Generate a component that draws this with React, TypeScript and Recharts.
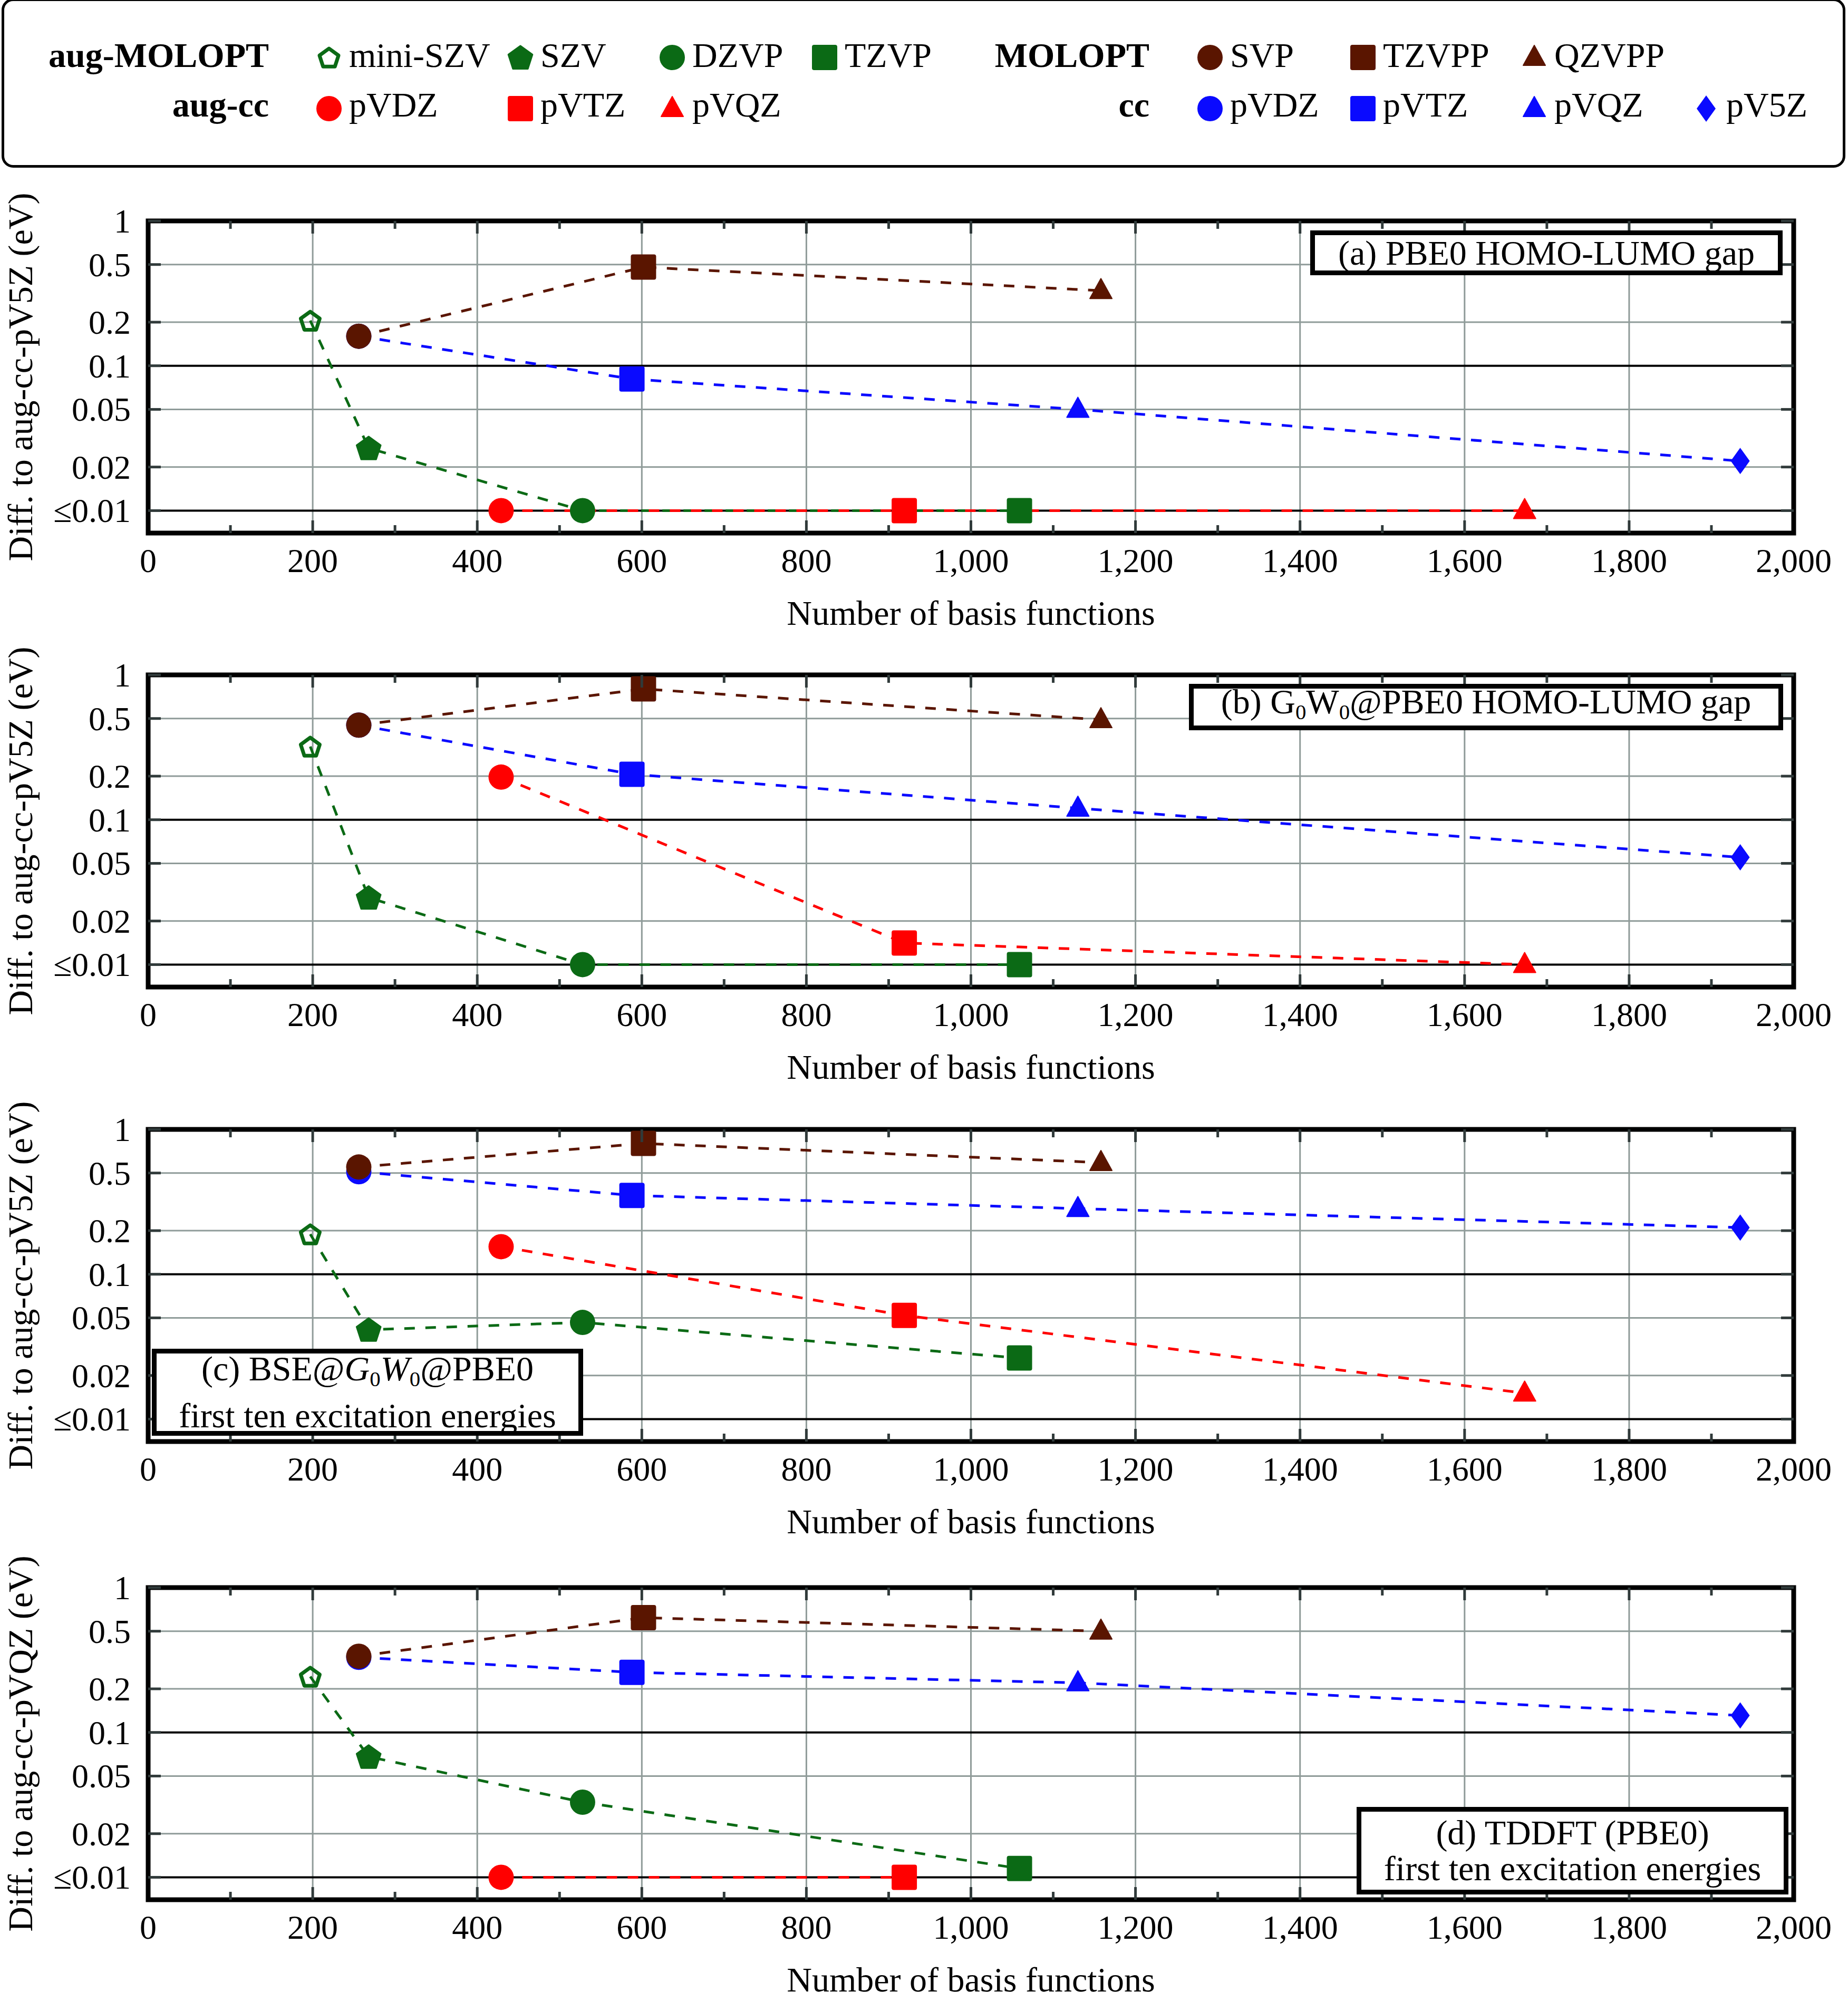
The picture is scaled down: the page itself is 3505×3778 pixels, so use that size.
import { ScatterChart, Scatter, XAxis, YAxis, ReferenceLine, ReferenceArea } from "recharts";

const FONT = "'Liberation Serif', 'Times New Roman', Times, serif";

const GREEN = "#0b6a15";
const BROWN = "#5a1500";
const RED = "#ff0000";
const BLUE = "#0a0aff";
const GRID = "#8f9b99";
const TICK = "#303a3a";

// basis-set names per family
const augMoloptNames = ["mini-SZV", "SZV", "DZVP", "TZVP"];
const moloptNames = ["SVP", "TZVPP", "QZVPP"];
const augCcNames = ["pVDZ", "pVTZ", "pVQZ"];
const ccNames = ["pVDZ", "pVTZ", "pVQZ", "pV5Z"];

// number of basis functions
const augMoloptBasis = [197, 268, 528, 1059];
const moloptBasis = [256, 602, 1158];
const augCcBasis = [429, 919, 1673];
const ccBasis = [256, 588, 1130, 1935];

// deviations in eV (0.01 is the "<=0.01" floor)
const pbe0GapAugMolopt = [0.205, 0.027, 0.01, 0.01];
const pbe0GapMolopt = [0.16, 0.48, 0.33];
const pbe0GapAugCc = [0.01, 0.01, 0.01];
const pbe0GapCc = [0.16, 0.081, 0.05, 0.022];

const gwGapAugMolopt = [0.32, 0.029, 0.01, 0.01];
const gwGapMolopt = [0.45, 0.8, 0.49];
const gwGapAugCc = [0.197, 0.0141, 0.01];
const gwGapCc = [0.45, 0.206, 0.12, 0.055];

const bseAugMolopt = [0.189, 0.0414, 0.0465, 0.0264];
const bseMolopt = [0.55, 0.8, 0.59];
const bseAugCc = [0.155, 0.052, 0.0151];
const bseCc = [0.51, 0.35, 0.284, 0.21];

const tddftAugMolopt = [0.243, 0.068, 0.033, 0.0115];
const tddftMolopt = [0.336, 0.62, 0.5];
const tddftAugCc = [0.01, 0.01, null];
const tddftCc = [0.33, 0.26, 0.22, 0.131];

const xTicks = [0, 100, 200, 300, 400, 500, 600, 700, 800, 900, 1000, 1100, 1200, 1300, 1400, 1500, 1600, 1700, 1800, 1900, 2000];
const xGrid = [200, 400, 600, 800, 1000, 1200, 1400, 1600, 1800];
const yTicks = [0.01, 0.02, 0.05, 0.1, 0.2, 0.5, 1];
const yGridGray = [0.02, 0.05, 0.2, 0.5];
const yGridBlack = [0.01, 0.1];

const markerKind: Record<string, string> = {
  "mini-SZV": "pentagonOpen",
  SZV: "pentagon",
  DZVP: "circle",
  TZVP: "square",
  SVP: "circle",
  TZVPP: "square",
  QZVPP: "triangle",
  pVDZ: "circle",
  pVTZ: "square",
  pVQZ: "triangle",
  pV5Z: "diamond",
};

// layout
const W = 3505;
const MT = 100;
const PLOT_LEFT = 281;
const PLOT_RIGHT = 3402;
const PLOT_H = 592;
const PLOT_BOTTOM = MT + PLOT_H;
const X_AXIS_H = 200;
const CHART_H = MT + PLOT_H + X_AXIS_H;

function pentagon(cx: number, cy: number, r: number) {
  const pts = [];
  for (let k = 0; k < 5; k++) {
    const a = ((-90 + 72 * k) * Math.PI) / 180;
    pts.push(`${cx + r * Math.cos(a)},${cy + r * Math.sin(a) + 2}`);
  }
  return pts.join(" ");
}

function Marker({ kind, cx, cy, color }: { kind: string; cx: number; cy: number; color: string }) {
  switch (kind) {
    case "circle":
      return <circle cx={cx} cy={cy} r={24} fill={color} />;
    case "square":
      return <rect x={cx - 24} y={cy - 24} width={48} height={48} rx={4} fill={color} />;
    case "triangle":
      return (
        <polygon
          points={`${cx},${cy - 23} ${cx + 21},${cy + 15} ${cx - 21},${cy + 15}`}
          fill={color}
          stroke={color}
          strokeWidth={2}
          strokeLinejoin="round"
        />
      );
    case "diamond":
      return <polygon points={`${cx},${cy - 25} ${cx + 18},${cy} ${cx},${cy + 25} ${cx - 18},${cy}`} fill={color} />;
    case "pentagon":
      return <polygon points={pentagon(cx, cy, 24)} fill={color} stroke={color} strokeWidth={3} strokeLinejoin="round" />;
    default:
      return <polygon points={pentagon(cx, cy, 19)} fill="none" stroke={color} strokeWidth={7} strokeLinejoin="round" />;
  }
}

type Family = { names: string[]; basis: number[]; color: string };
const augMolopt: Family = { names: augMoloptNames, basis: augMoloptBasis, color: GREEN };
const molopt: Family = { names: moloptNames, basis: moloptBasis, color: BROWN };
const augCc: Family = { names: augCcNames, basis: augCcBasis, color: RED };
const cc: Family = { names: ccNames, basis: ccBasis, color: BLUE };

type Panel = {
  top: number;
  yTitle: string;
  values: [Family, (number | null)[]][];
};

// drawing order: green, red, blue, brown on top
const panels: Panel[] = [
  {
    top: 419,
    yTitle: "Diff. to aug-cc-pV5Z (eV)",
    values: [[augMolopt, pbe0GapAugMolopt], [augCc, pbe0GapAugCc], [cc, pbe0GapCc], [molopt, pbe0GapMolopt]],
  },
  {
    top: 1280,
    yTitle: "Diff. to aug-cc-pV5Z (eV)",
    values: [[augMolopt, gwGapAugMolopt], [augCc, gwGapAugCc], [cc, gwGapCc], [molopt, gwGapMolopt]],
  },
  {
    top: 2142,
    yTitle: "Diff. to aug-cc-pV5Z (eV)",
    values: [[augMolopt, bseAugMolopt], [augCc, bseAugCc], [cc, bseCc], [molopt, bseMolopt]],
  },
  {
    top: 3011,
    yTitle: "Diff. to aug-cc-pVQZ (eV)",
    values: [[augMolopt, tddftAugMolopt], [augCc, tddftAugCc], [cc, tddftCc], [molopt, tddftMolopt]],
  },
];

const XTick = (props: any) => {
  const { x, payload } = props;
  const v = payload.value as number;
  const major = v % 200 === 0;
  const len = major ? 24 : 15;
  const inner = v > 0 && v < 2000;
  return (
    <g>
      {inner && <line x1={x} x2={x} y1={PLOT_BOTTOM} y2={PLOT_BOTTOM - len} stroke={TICK} strokeWidth={5} />}
      {inner && <line x1={x} x2={x} y1={MT} y2={MT + len} stroke={TICK} strokeWidth={5} />}
      {major && (
        <text x={x} y={PLOT_BOTTOM + 74} textAnchor="middle" fontSize={64} fontFamily={FONT} fill="#000">
          {v.toLocaleString("en-US")}
        </text>
      )}
    </g>
  );
};

const YTick = (props: any) => {
  const { y, payload } = props;
  const v = payload.value as number;
  return (
    <g>
      <line x1={PLOT_LEFT} x2={PLOT_LEFT + 24} y1={y} y2={y} stroke={TICK} strokeWidth={5} />
      <line x1={PLOT_RIGHT - 24} x2={PLOT_RIGHT} y1={y} y2={y} stroke={TICK} strokeWidth={5} />
      <text x={248} y={y + 22} textAnchor="end" fontSize={64} fontFamily={FONT} fill="#000">
        {v === 0.01 ? "≤0.01" : String(v)}
      </text>
    </g>
  );
};

const YTitle = ({ text }: { text: string }) => (
  <text
    transform={`translate(61,${MT + PLOT_H / 2}) rotate(-90)`}
    textAnchor="middle"
    fontSize={66}
    fontFamily={FONT}
    fill="#000"
  >
    {text}
  </text>
);

const XTitle = () => (
  <text
    x={(PLOT_LEFT + PLOT_RIGHT) / 2}
    y={PLOT_BOTTOM + 174}
    textAnchor="middle"
    fontSize={66}
    fontFamily={FONT}
    fill="#000"
  >
    Number of basis functions
  </text>
);

const toPoints = (f: Family, vals: (number | null)[]) =>
  f.names
    .map((name, i) => ({ x: f.basis[i], y: vals[i], name }))
    .filter((p) => p.y !== null && p.y !== undefined);

function PanelChart({ panel }: { panel: Panel }) {
  return (
    <div style={{ position: "absolute", left: 0, top: panel.top - MT }}>
      <ScatterChart width={W} height={CHART_H} margin={{ top: MT, right: W - PLOT_RIGHT, bottom: 0, left: 0 }}>
        <XAxis
          type="number"
          dataKey="x"
          domain={[0, 2000]}
          ticks={xTicks}
          interval={0}
          allowDataOverflow
          axisLine={false}
          tickLine={false}
          height={X_AXIS_H}
          tick={(p: any) => <XTick {...p} />}
          label={<XTitle />}
        />
        <YAxis
          type="number"
          dataKey="y"
          scale="log"
          domain={[0.007, 1]}
          ticks={yTicks}
          interval={0}
          allowDataOverflow
          axisLine={false}
          tickLine={false}
          width={PLOT_LEFT}
          tick={(p: any) => <YTick {...p} />}
          label={<YTitle text={panel.yTitle} />}
        />
        {xGrid.map((v) => (
          <ReferenceLine key={`gx${v}`} x={v} stroke={GRID} strokeWidth={3} />
        ))}
        {yGridGray.map((v) => (
          <ReferenceLine key={`gy${v}`} y={v} stroke={GRID} strokeWidth={3} />
        ))}
        {yGridBlack.map((v) => (
          <ReferenceLine key={`by${v}`} y={v} stroke="#000" strokeWidth={4} />
        ))}
        {panel.values.map(([f, vals], i) => (
          <Scatter
            key={`l${i}`}
            data={toPoints(f, vals)}
            isAnimationActive={false}
            line={{ stroke: f.color, strokeWidth: 5, strokeDasharray: "20 20" }}
            lineType="joint"
            shape={() => <g />}
          />
        ))}
        {panel.values.map(([f, vals], i) => (
          <Scatter
            key={`m${i}`}
            data={toPoints(f, vals)}
            isAnimationActive={false}
            shape={(p: any) => (
              <Marker kind={markerKind[p.payload?.name ?? f.names[p.index]]} cx={p.cx} cy={p.cy} color={f.color} />
            )}
          />
        ))}
        <ReferenceArea x1={0} x2={2000} y1={0.007} y2={1} fill="none" stroke="#000" strokeWidth={9} />
      </ScatterChart>
    </div>
  );
}

const Sub = ({ children }: { children: string }) => (
  <span style={{ fontSize: "0.62em", verticalAlign: "-0.28em" }}>{children}</span>
);

const boxStyle = (left: number, top: number, width: number, height: number): React.CSSProperties => ({
  position: "absolute",
  left,
  top,
  width,
  height,
  boxSizing: "border-box",
  border: "9px solid #000",
  background: "#fff",
  display: "flex",
  flexDirection: "column",
  justifyContent: "center",
  alignItems: "center",
  fontSize: 66,
  lineHeight: "68px",
  whiteSpace: "nowrap",
});

// legend layout
const legendRows: { label: string; family: Family }[][] = [
  [{ label: "aug-MOLOPT", family: augMolopt }, { label: "MOLOPT", family: molopt }],
  [{ label: "aug-cc", family: augCc }, { label: "cc", family: cc }],
];
const LEGEND_COLS = [
  [619, 982, 1270, 1559],
  [2290, 2580, 2905, 3231],
];
const LEGEND_LABEL_RIGHT = [505, 2175];
const LEGEND_ROW_Y = [110, 207];
const LEGEND_TEXT_TOP = [73, 167];

function Legend() {
  return (
    <div
      style={{
        position: "absolute",
        left: 3,
        top: -3,
        width: 3497,
        height: 321,
        boxSizing: "border-box",
        border: "5px solid #000",
        borderRadius: 22,
      }}
    >
      {legendRows.map((row, r) =>
        row.map((g, side) => (
          <div key={`${r}-${side}`}>
            <div
              style={{
                position: "absolute",
                left: LEGEND_LABEL_RIGHT[side] - 600 - 3,
                top: LEGEND_TEXT_TOP[r] - 3,
                width: 600,
                textAlign: "right",
                fontWeight: "bold",
                fontSize: 66,
                lineHeight: "66px",
              }}
            >
              {g.label}
            </div>
            {g.family.names.map((name, i) => {
              const cx = LEGEND_COLS[side][i];
              return (
                <div key={name}>
                  <svg
                    width={60}
                    height={60}
                    style={{ position: "absolute", left: cx - 30 - 3, top: LEGEND_ROW_Y[r] - 30 - 3 }}
                  >
                    <Marker kind={markerKind[name]} cx={30} cy={30} color={g.family.color} />
                  </svg>
                  <div
                    style={{
                      position: "absolute",
                      left: cx + 38 - 3,
                      top: LEGEND_TEXT_TOP[r] - 3,
                      fontSize: 66,
                      lineHeight: "66px",
                      whiteSpace: "nowrap",
                    }}
                  >
                    {name}
                  </div>
                </div>
              );
            })}
          </div>
        ))
      )}
    </div>
  );
}

export default function App() {
  return (
    <div
      style={{
        position: "absolute",
        left: 0,
        top: 0,
        width: W,
        height: 3778,
        background: "#fff",
        fontFamily: FONT,
        color: "#000",
        overflow: "hidden",
      }}
    >
      <Legend />
      {panels.map((p, i) => (
        <PanelChart key={i} panel={p} />
      ))}
      <div style={boxStyle(2485, 437, 896, 85)}>(a) PBE0 HOMO-LUMO gap</div>
      <div style={boxStyle(2255, 1297, 1127, 88)}>
        <div>
          (b) G<Sub>0</Sub>W<Sub>0</Sub>@PBE0 HOMO-LUMO gap
        </div>
      </div>
      <div style={boxStyle(288, 2558, 818, 165)}>
        <div>
          (c) BSE@<i>G</i>
          <Sub>0</Sub>
          <i>W</i>
          <Sub>0</Sub>@PBE0
        </div>
        <div>first ten excitation energies</div>
      </div>
      <div style={boxStyle(2573, 3427, 819, 166)}>
        <div>(d) TDDFT (PBE0)</div>
        <div>first ten excitation energies</div>
      </div>
    </div>
  );
}
